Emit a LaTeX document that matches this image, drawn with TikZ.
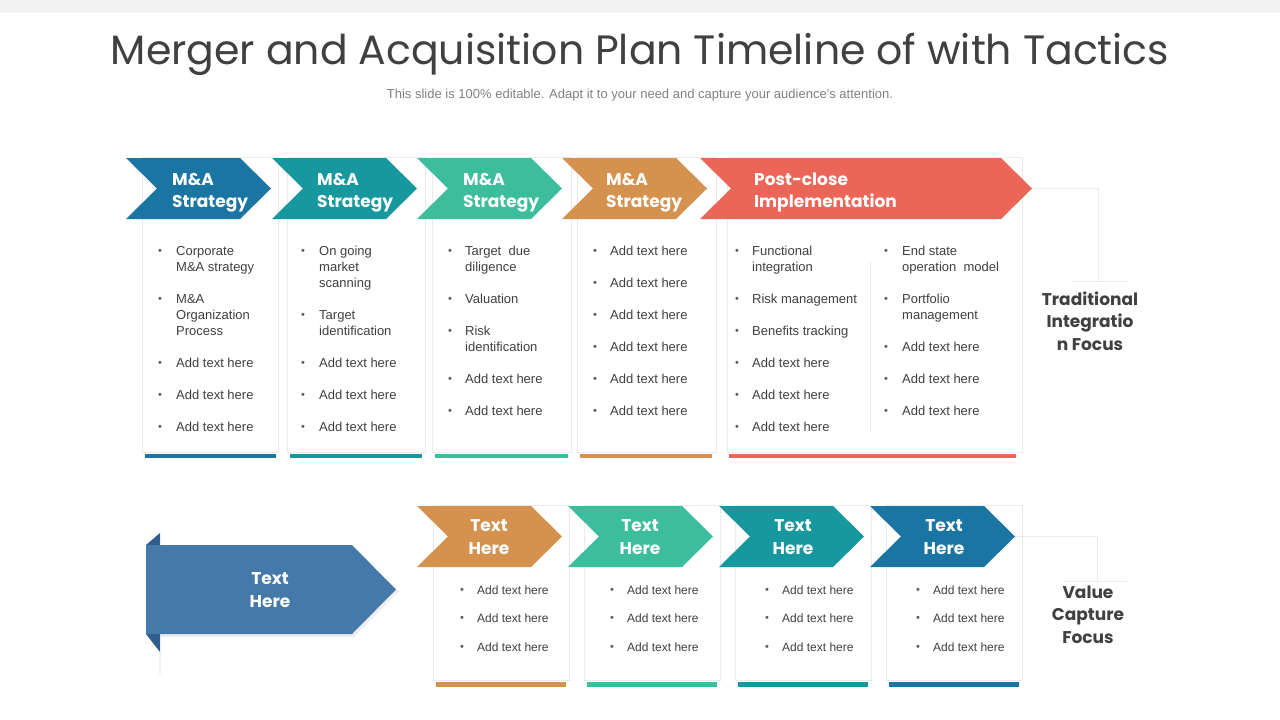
\documentclass[tikz,border=0pt]{standalone}
\usepackage{fontspec}
\setmainfont{Liberation Sans}
\newfontfamily\headfont{Poppins}
\usetikzlibrary{calc}
\definecolor{maBlue}{HTML}{1B75A3}
\definecolor{maTeal}{HTML}{17979E}
\definecolor{maGreen}{HTML}{3CBE9C}
\definecolor{maOrange}{HTML}{D5914E}
\definecolor{maCoral}{HTML}{EB6658}
\definecolor{maSteel}{HTML}{4479AA}
\definecolor{maFold}{HTML}{2F5E8C}
\definecolor{maText}{HTML}{404040}
\definecolor{maLine}{HTML}{EAEAEA}
% chevron: [style](left x, top y)(width, height)
\def\chevron[#1](#2,#3)(#4,#5){\fill[#1] (#2,#3) -- ++({#4-31},0) -- ++(31,{#5/2}) -- ++(-31,{#5/2}) -- ++({31-#4},0) -- ++(31,{-#5/2}) -- cycle;}
\tikzset{
  card/.style={draw=maLine, fill=white, line width=0.8pt},
  item/.style={anchor=north west, yshift=11.2pt, inner sep=0pt, align=left, text=maText, font=\fontsize{13}{16}\selectfont},
  smallitem/.style={item, font=\fontsize{12}{16}\selectfont},
  dot/.style={anchor=base, yshift=1pt, inner sep=0pt, text=maText!85, font=\fontsize{11}{12}\selectfont},
  chevtext/.style={anchor=north west, yshift=15.4pt, inner sep=0pt, align=left, text=white, font=\headfont\bfseries\fontsize{17}{22}\selectfont},
  chevtextc/.style={anchor=north, yshift=16.1pt, inner sep=0pt, align=center, text=white, font=\headfont\bfseries\fontsize{17}{23}\selectfont},
  focus/.style={anchor=north, yshift=15.75pt, inner sep=0pt, align=center, text=maText, font=\headfont\bfseries\fontsize{17}{22.5}\selectfont},
  bracket/.style={draw=maLine, line width=0.8pt}
}
\begin{document}
\begin{tikzpicture}[x=1pt, y=-1pt]
			%%%%% START %%%%%
			\useasboundingbox (0,0) rectangle (1280,720);
			\fill[black!5] (0,0) rectangle (1280,13);
			
			\node[anchor=base, inner sep=0pt, text=maText, font=\headfont\fontsize{41}{44}\selectfont] (title) at (640,64) {Merger and Acquisition Plan Timeline of with Tactics};
			\node[anchor=base, inner sep=0pt, text=black!50, font=\fontsize{13}{15}\selectfont] (subtitle) at (640,98) {This slide is 100\% editable. Adapt it to your need and capture your audience's attention.};
			
			% top cards
			\draw[card] (142,157) rectangle (278,452);
			\draw[card] (287,157) rectangle (425,452);
			\draw[card] (432,157) rectangle (571,452);
			\draw[card] (577,157) rectangle (716,452);
			\draw[card] (727,157) rectangle (1022,452);
			\fill[maBlue] (145,454) rectangle (276,458);
			\fill[maTeal] (290,454) rectangle (422,458);
			\fill[maGreen] (435,454) rectangle (568,458);
			\fill[maOrange] (580,454) rectangle (712,458);
			\fill[maCoral] (729,454) rectangle (1016,458);
			\draw[maLine, line width=0.8pt] (870,262) -- (870,432);
			
			% top chevrons
			\chevron[maBlue](126,158)(145,61)
			\chevron[maTeal](272,158)(145,61)
			\chevron[maGreen](417,158)(145,61)
			\chevron[maOrange](562,158)(145,61)
			\chevron[maCoral](700,158)(332,61)
			\coordinate (tip5) at (1032,188.5);
			
			\node[chevtext] (s1) at (172,185) {\strut M\&A\\Strategy};
			\node[chevtext] (s2) at (317,185) {\strut M\&A\\Strategy};
			\node[chevtext] (s3) at (463,185) {\strut M\&A\\Strategy};
			\node[chevtext] (s4) at (606,185) {\strut M\&A\\Strategy};
			\node[chevtext] (s5) at (754,185) {\strut Post-close\\Implementation};
			
			% top lists
			\foreach \y/\t [count=\i] in {250/{Corporate\\M\&A strategy}, 298/{M\&A\\Organization\\Process}, 362/Add text here, 394/Add text here, 426/Add text here}{
				\node[dot] (da\i) at (160,\y+5) {•};
				\node[item] (ta\i) at (176,\y+5) {\strut\t};
			}
			\foreach \y/\t [count=\i] in {250/{On going\\market\\scanning}, 314/{Target\\identification}, 362/Add text here, 394/Add text here, 426/Add text here}{
				\node[dot] (db\i) at (303,\y+5) {•};
				\node[item] (tb\i) at (319,\y+5) {\strut\t};
			}
			\foreach \y/\t [count=\i] in {250/{Target\ \ due\\diligence}, 298/Valuation, 330/{Risk\\identification}, 378/Add text here, 410/Add text here}{
				\node[dot] (dc\i) at (450,\y+5) {•};
				\node[item] (tc\i) at (465,\y+5) {\strut\t};
			}
			\foreach \y [count=\i] in {250,282,314,346,378,410}{
				\node[dot] (dd\i) at (595,\y+5) {•};
				\node[item] (td\i) at (610,\y+5) {\strut Add text here};
			}
			\foreach \y/\t [count=\i] in {250/{Functional\\integration}, 298/Risk management, 330/Benefits tracking, 362/Add text here, 394/Add text here, 426/Add text here}{
				\node[dot] (de\i) at (737,\y+5) {•};
				\node[item] (te\i) at (752,\y+5) {\strut\t};
			}
			\foreach \y/\t [count=\i] in {250/{End state\\operation\ \ model}, 298/{Portfolio\\management}, 346/Add text here, 378/Add text here, 410/Add text here}{
				\node[dot] (df\i) at (886,\y+5) {•};
				\node[item] (tf\i) at (902,\y+5) {\strut\t};
			}
			
			% traditional focus
			\node[focus] (trad) at (1090,305) {\strut Traditional\\Integratio\\n Focus};
			\coordinate (tradA) at (1098,188.5);
			\coordinate (tradB) at (1098,281);
			\draw[bracket] (tip5) -- (tradA) -- (tradB);
			\draw[bracket] ($(tradB)+(-26,0)$) -- ($(tradB)+(30,0)$);
			
			% bottom cards
			\draw[card] (433,505) rectangle (569,680);
			\draw[card] (584,505) rectangle (720,680);
			\draw[card] (735,505) rectangle (871,680);
			\draw[card] (886,505) rectangle (1022,680);
			\fill[maOrange] (436,682) rectangle (566,687);
			\fill[maGreen] (587,682) rectangle (717,687);
			\fill[maTeal] (738,682) rectangle (868,687);
			\fill[maBlue] (889,682) rectangle (1019,687);
			
			% bottom chevrons
			\chevron[maOrange](417,506)(145,61)
			\chevron[maGreen](568,506)(145,61)
			\chevron[maTeal](719,506)(145,61)
			\chevron[maBlue](870,506)(145,61)
			\coordinate (tipD) at (1015,536.5);
			
			\node[chevtextc] (h1) at (489,531) {\strut Text\\Here};
			\node[chevtextc] (h2) at (640,531) {\strut Text\\Here};
			\node[chevtextc] (h3) at (793,531) {\strut Text\\Here};
			\node[chevtextc] (h4) at (944,531) {\strut Text\\Here};
			
			\foreach \x [count=\j] in {462,612,767,918}{
				\foreach \y [count=\i] in {590,618,647}{
					\node[dot] (bd\j\i) at (\x,\y+4.5) {•};
					\node[smallitem] (bt\j\i) at (\x+15,\y+4.5) {\strut Add text here};
				}
			}
			
			% big arrow
			\fill[black!6] (159,652) rectangle (161,674);
			\fill[black!7] (160,634) -- (352,634) -- (396,589.5) -- (399,591) -- (354,637) -- (160,637) -- cycle;
			\fill[maFold] (146,545) -- (160,533) -- (160,545) -- cycle;
			\fill[maFold] (146,634) -- (160,634) -- (160,652) -- cycle;
			\fill[maSteel] (146,545) -- (352,545) -- (396,589.5) -- (352,634) -- (146,634) -- cycle;
			\node[chevtextc] (big) at (270,584) {\strut Text\\Here};
			
			% value capture focus
			\node[focus] (value) at (1088,598) {\strut Value\\Capture\\Focus};
			\coordinate (valA) at (1097,536.5);
			\coordinate (valB) at (1097,581);
			\draw[bracket] (tipD) -- (valA) -- (valB);
			\draw[bracket] ($(valB)+(-34,0)$) -- ($(valB)+(30,0)$);
			
			%%%%% END %%%%%
		\end{tikzpicture}
\end{document}
